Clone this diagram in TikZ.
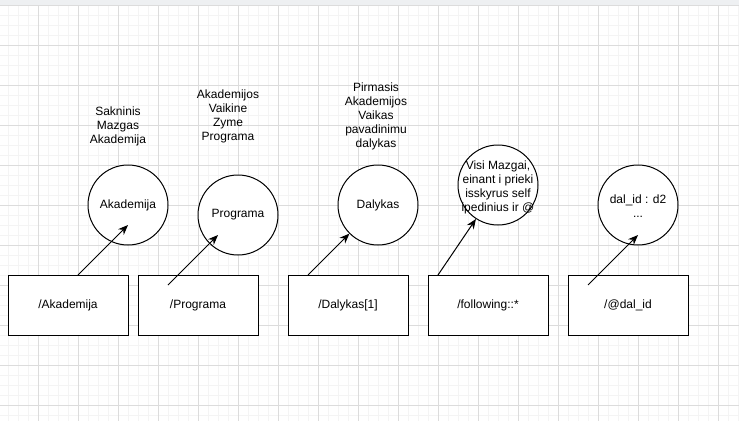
\documentclass[tikz,border=0pt]{standalone}
\usepackage{fontspec}
\setmainfont{Liberation Sans}
\usetikzlibrary{arrows.meta,calc}
\definecolor{minorc}{HTML}{F4F4F4}
\definecolor{majorc}{HTML}{DCDCDC}
\definecolor{topc}{HTML}{EEF0F2}
\begin{document}
\begin{tikzpicture}[x=0.75pt,y=-0.75pt,
  every node/.style={font=\fontsize{9}{10.5}\selectfont, text=black},
  boxnode/.style={draw, line width=0.75pt, fill=white, minimum width=90pt, minimum height=45pt, inner sep=0pt},
  circnode/.style={circle, draw, fill=white, line width=0.75pt, minimum size=60pt, inner sep=0pt},
  lbl/.style={align=center, inner sep=0pt},
  link/.style={line width=0.75pt, -{Stealth[length=7.5pt,width=6pt]}},
  minorline/.style={minorc, line width=0.75pt},
  majorline/.style={majorc, line width=0.75pt}]
\useasboundingbox (0,0) rectangle (739,421);
\fill[white] (0,0) rectangle (739,421);
% grid
\foreach \x in {8,18,...,738} \draw[minorline] (\x,0) -- (\x,421);
\foreach \y in {5,15,...,420} \draw[minorline] (0,\y) -- (739,\y);
\foreach \x in {38,78,...,738} \draw[majorline] (\x,0) -- (\x,421);
\foreach \y in {5,45,...,420} \draw[majorline] (0,\y) -- (739,\y);
\fill[topc] (0,0) rectangle (739,5);
\draw[majorline] (0,5) -- (739,5);

% boxes
\node[boxnode] (b1) at (68,305) {/Akademija};
\node[boxnode] (b2) at (198,305) {/Programa};
\node[boxnode] (b3) at (348,305) {/Dalykas[1]};
\node[boxnode] (b4) at (488,305) {/following::*};
\node[boxnode] (b5) at (628,305) {/@dal\_id};

% circles
\node[circnode] (c1) at (128,205) {Akademija};
\node[circnode] (c2) at (238,215) {Programa};
\node[circnode] (c3) at (378,205) {Dalykas};
\node[circnode] (c4) at (498,185) {};
\node[circnode] (c5) at (638,205) {};
\node[lbl] (c4t) at (498,187) {Visi Mazgai,\\einant i prieki\\isskyrus self\\ipedinius ir @};
\node[lbl] (c5t) at (638,206) {dal\_id : d2\\...};

% labels
\node[lbl] (l1) at (118,126) {Sakninis\\Mazgas\\Akademija};
\node[lbl] (l2) at (228,116) {Akademijos\\Vaikine\\Zyme\\Programa};
\node[lbl] (l3) at (376,116) {Pirmasis\\Akademijos\\Vaikas\\pavadinimu\\dalykas};

% connector start points
\coordinate (s1) at (78,275);
\coordinate (s2) at (168,285);
\coordinate (s3) at (308,275);
\coordinate (s4) at (438,275);
\coordinate (s5) at (588,285);

\draw[link] (s1) -- ($(c1.center)+(0,20)$);
\draw[link] (s2) -- ($(c2.center)+(-20,20)$);
\draw[link] (s3) -- (c3.225);
\draw[link] (s4) -- (c4.237);
\draw[link] (s5) -- ($(c5.center)+(0,30)$);
\end{tikzpicture}
\end{document}
